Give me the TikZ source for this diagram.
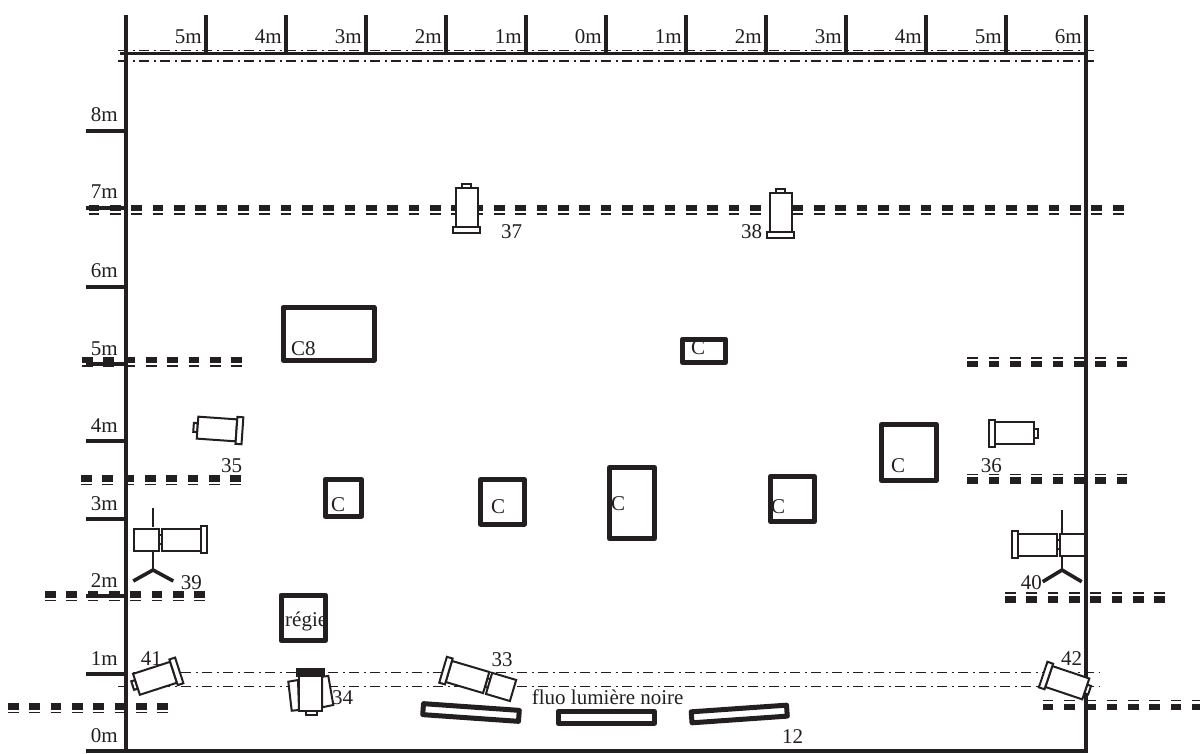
\documentclass[tikz,border=0pt]{standalone}
\usepackage{fontspec}
\setmainfont{Liberation Serif}
\definecolor{inkblack}{HTML}{231F20}
\newcommand{\dashlen}{10.67pt}
\newcommand{\rowbar}[4]{%
  \draw [barthick] (#1,#3) -- (#2,#3);
  \draw [barthin] (#1,#4) -- (#2,#4);
}
\newcommand{\lamp}[3]{%
  \begin{scope}[shift={(#1,#2)},rotate=#3]
    \draw [lampline] (19.5,-4.5) rectangle (23.5,4.5);
    \draw [lampline] (-19.5,-11) rectangle (19.5,11);
    \draw [lampline] (-25.5,-13.5) rectangle (-19.5,13.5);
  \end{scope}
}
\newcommand{\lampbox}[3]{%
  \begin{scope}[shift={(#1,#2)},rotate=#3]
    \draw [lampline] (22.5,-11) rectangle (47.5,11);
  \end{scope}
}
\tikzstyle{axis}=[draw=inkblack,line width=3.2pt]
\tikzstyle{barthick}=[draw=inkblack,line width=6.2pt,dash pattern=on \dashlen off \dashlen]
\tikzstyle{barthin}=[draw=inkblack,line width=1.9pt,dash pattern=on \dashlen off \dashlen]
\tikzstyle{rail}=[draw=inkblack,line width=1.2pt,dash pattern=on 10pt off 4.5pt on 2pt off 4.5pt]
\tikzstyle{lampline}=[draw=inkblack,fill=white,line width=2pt]
\tikzstyle{legs}=[draw=inkblack,line width=3.6pt]
\tikzstyle{table}=[draw=inkblack,line width=5pt,line join=round]
\tikzstyle{lab}=[text=inkblack,inner sep=0pt,font=\fontsize{21}{24}\selectfont]
\tikzstyle{lableft}=[lab,anchor=base west]
\tikzstyle{labright}=[lab,anchor=base east]

\begin{document}
\begin{tikzpicture}[x=1pt,y=-1pt]
\useasboundingbox (0,0) rectangle (1200,754);

% dash-dot rails
\draw [rail] (118,50.5) -- (1095,50.5);
\draw [rail] (118,61) -- (1095,61);
\draw [rail] (118,672.7) -- (1100,672.7);
\draw [rail] (118,686.7) -- (1100,686.7);

% axes
\draw [axis] (126,15) -- (126,753);
\draw [axis] (1086,15) -- (1086,753);
\draw [axis] (120,53.5) -- (1088,53.5);
\draw [axis] (86,751) -- (1086,751);
\foreach \xx in {206,286,...,1006} \draw [axis] (\xx,15) -- (\xx,53.5);
\foreach \yy in {131,208,287,364,441,519,596,674} \draw [axis] (86,\yy) -- (126,\yy);

% bars
\rowbar{88.5}{1124}{208}{214}
\rowbar{82}{242}{360}{366}
\rowbar{81}{241}{478.5}{484.5}
\rowbar{45}{206}{594.5}{600.5}
\rowbar{8}{168.5}{706.5}{712.5}
\rowbar{967.3}{1127.5}{364}{358}
\rowbar{967.3}{1127.5}{480.5}{474.5}
\rowbar{1005}{1165.5}{599.5}{593}
\rowbar{1042.7}{1200}{707}{700.5}

% lamps
\lamp{1014}{433}{0}
\lamp{217}{429}{176}
\lamp{466.7}{208}{90}
\lamp{780.5}{212.5}{90}
\lamp{155}{678.3}{198}
\lamp{1067.3}{682.7}{-18.6}
\lamp{181.7}{539.5}{180}
\lampbox{181.7}{539.5}{180}
\lamp{1037}{544.7}{0}
\lampbox{1037}{544.7}{0}
\lamp{467.5}{677}{-16.5}
\lampbox{467.5}{677}{-16.5}

% lamp 34
\draw [lampline] (288.3,681.7) -- (298,680) -- (299,710) -- (291.7,710.7) -- cycle;
\draw [lampline] (322,676.7) -- (328.3,676) -- (333.3,705) -- (322,707.3) -- cycle;
\draw [lampline] (305.7,710.7) rectangle (316.7,715);
\draw [lampline] (299,675.7) rectangle (322,710.7);
\draw [lampline,fill=inkblack] (296.5,668.8) rectangle (324,675.7);

% stands
\draw [lampline] (153,508) -- (153,527.3);
\draw [lampline] (153,551.7) -- (153,570);
\draw [legs] (133.3,581) -- (153,570) -- (173.3,581);
\draw [lampline] (1062,510) -- (1062,533);
\draw [lampline] (1062,556) -- (1062,570);
\draw [legs] (1042.7,581.7) -- (1062,570) -- (1081.7,581.7);

% scale
\foreach \lbl/\xx in {5/206,4/286,3/366,2/446,1/526,0/606,1/686,2/766,3/846,4/926,5/1006,6/1086}
  \node [labright] (top\xx) at (\xx-4,44) {\lbl m};
\foreach \lbl/\yy in {8/131,7/208,6/287,5/364,4/441,3/519,2/596,1/674,0/751}
  \node [labright] (left\lbl) at (118,\yy-9) {\lbl m};

% numbers
\node [lableft] (n41) at (140.7,665.7) {41};
\node [lableft] (n39) at (180.7,589) {39};
\node [lableft] (n35) at (221,472) {35};
\node [lableft] (n36) at (980.7,472) {36};
\node [lableft] (n37) at (501,238.3) {37};
\node [lableft] (n38) at (741,238.3) {38};
\node [lableft] (n40) at (1020.7,589.3) {40};
\node [lableft] (n42) at (1061,665.7) {42};
\node [lableft] (n33) at (491.5,666) {33};
\node [lableft] (n34) at (332,704) {34};
\node [lableft] (n12) at (782,743.3) {12};
\node [lableft] (fluo) at (531.7,704) {fluo lumière noire};

% tables
\node [lableft] (c8) at (291,355) {C8};
\node [lableft] (c1) at (691,354) {C};
\node [lableft] (c2) at (331,511) {C};
\node [lableft] (c3) at (491,513) {C};
\node [lableft] (c4) at (611,510) {C};
\node [lableft] (c5) at (771,513) {C};
\node [lableft] (c6) at (891,472) {C};
\node [lableft] (regie) at (285,626.7) {régie};
\draw [table] (283,307.5) rectangle (374,360);
\draw [table] (682.5,339) rectangle (725.5,362.5);
\draw [table] (881.5,424.5) rectangle (936.5,480.5);
\draw [table] (325,479.5) rectangle (361.5,516);
\draw [table] (480.5,479.5) rectangle (524.5,524);
\draw [table] (609.5,467.5) rectangle (654.5,538.5);
\draw [table] (770.5,476.5) rectangle (814.5,521.5);
\draw [table] (281,595) rectangle (325.5,640.5);

% fluo tubes
\draw [table] (558,711.5) rectangle (654.5,723);
\draw [table,rotate around={-4:(471,712.5)}] (423,707) rectangle (519,718);
\draw [table,rotate around={4:(739,714)}] (691.5,708.5) rectangle (787,719.5);
\end{tikzpicture}
\end{document}
